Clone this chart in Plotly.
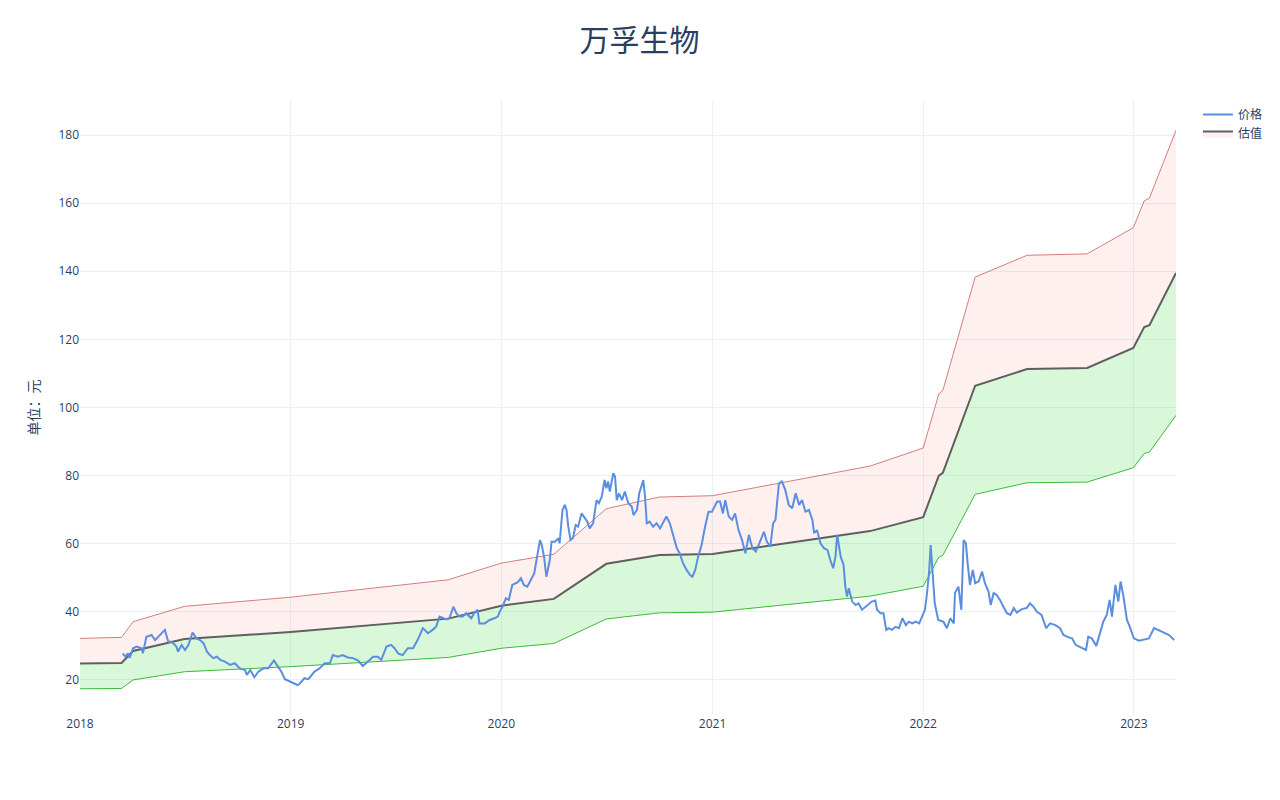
import plotly.graph_objects as go

# ---- valuation band (估值) ----
val_dates = ["2018-01-01", "2018-03-14", "2018-04-03", "2018-07-01", "2019-01-01",
             "2019-10-01", "2020-01-01", "2020-04-01", "2020-07-01", "2020-10-01",
             "2021-01-01", "2021-10-01", "2022-01-01", "2022-01-28", "2022-02-04",
             "2022-04-01", "2022-06-30", "2022-10-12", "2022-12-31", "2023-01-19",
             "2023-01-28", "2023-03-15"]
val_mid = [24.8, 25.0, 28.5, 32.0, 34.1, 38.0, 41.8, 43.8, 54.1, 56.7, 57.0,
           63.7, 67.8, 80.0, 80.8, 106.4, 111.3, 111.6, 117.5, 123.6, 124.2, 139.5]
val_upper = [32.2, 32.5, 37.1, 41.6, 44.3, 49.4, 54.3, 56.9, 70.3, 73.7, 74.1,
             82.8, 88.1, 104.0, 105.0, 138.3, 144.7, 145.1, 152.8, 160.7, 161.5, 181.4]
val_lower = [17.4, 17.5, 20.0, 22.4, 23.9, 26.6, 29.3, 30.7, 37.9, 39.7, 39.9,
             44.6, 47.5, 56.0, 56.6, 74.5, 77.9, 78.1, 82.3, 86.5, 86.9, 97.7]

# ---- price (价格) ----
price_dates = [
    "2018-03-16", "2018-03-21", "2018-03-25", "2018-03-28", "2018-04-03", "2018-04-09",
    "2018-04-18", "2018-04-20", "2018-04-26", "2018-05-05", "2018-05-11", "2018-05-20",
    "2018-05-28", "2018-06-03", "2018-06-09", "2018-06-17", "2018-06-20", "2018-06-26",
    "2018-07-02", "2018-07-08", "2018-07-15", "2018-07-22", "2018-07-28", "2018-08-03",
    "2018-08-09", "2018-08-14", "2018-08-20", "2018-08-26", "2018-09-01", "2018-09-09",
    "2018-09-18", "2018-09-26", "2018-10-05", "2018-10-14", "2018-10-17", "2018-10-23",
    "2018-10-30", "2018-11-06", "2018-11-15", "2018-11-23", "2018-12-03", "2018-12-10",
    "2018-12-16", "2018-12-22", "2018-12-31",
    "2019-01-08", "2019-01-13", "2019-01-16", "2019-01-22", "2019-01-25", "2019-01-31",
    "2019-02-02", "2019-02-11", "2019-02-20", "2019-03-01", "2019-03-10", "2019-03-15",
    "2019-03-24", "2019-04-01", "2019-04-10", "2019-04-19", "2019-04-28", "2019-05-06",
    "2019-05-15", "2019-05-24", "2019-06-01", "2019-06-07", "2019-06-16", "2019-06-24",
    "2019-06-30", "2019-07-06", "2019-07-14", "2019-07-23", "2019-08-01", "2019-08-09",
    "2019-08-18", "2019-08-27", "2019-09-04", "2019-09-10", "2019-09-16", "2019-09-22",
    "2019-09-28", "2019-10-03", "2019-10-10", "2019-10-15", "2019-10-21", "2019-10-26",
    "2019-11-01", "2019-11-10", "2019-11-15", "2019-11-21", "2019-11-24", "2019-12-03",
    "2019-12-12", "2019-12-20", "2019-12-26", "2019-12-29",
    "2020-01-03", "2020-01-09", "2020-01-14", "2020-01-20", "2020-01-29", "2020-02-04",
    "2020-02-09", "2020-02-15", "2020-02-21", "2020-02-27", "2020-03-03", "2020-03-08",
    "2020-03-11", "2020-03-15", "2020-03-19", "2020-03-25", "2020-03-28", "2020-04-03",
    "2020-04-09", "2020-04-11", "2020-04-16", "2020-04-20", "2020-04-23", "2020-04-26",
    "2020-04-30", "2020-05-04", "2020-05-09", "2020-05-13", "2020-05-19", "2020-05-25",
    "2020-05-29", "2020-06-02", "2020-06-08", "2020-06-14", "2020-06-18", "2020-06-23",
    "2020-06-28", "2020-07-01", "2020-07-04", "2020-07-07", "2020-07-13", "2020-07-16",
    "2020-07-19", "2020-07-23", "2020-07-28", "2020-08-02", "2020-08-08", "2020-08-14",
    "2020-08-17", "2020-08-23", "2020-08-27", "2020-09-03", "2020-09-06", "2020-09-09",
    "2020-09-14", "2020-09-20", "2020-09-26", "2020-10-02", "2020-10-08", "2020-10-13",
    "2020-10-19", "2020-10-25", "2020-10-31", "2020-11-05", "2020-11-11", "2020-11-17",
    "2020-11-23", "2020-11-27", "2020-12-02", "2020-12-07", "2020-12-13", "2020-12-19",
    "2020-12-25", "2020-12-31",
    "2021-01-09", "2021-01-14", "2021-01-19", "2021-01-23", "2021-01-29", "2021-02-04",
    "2021-02-09", "2021-02-15", "2021-02-21", "2021-02-27", "2021-03-05", "2021-03-11",
    "2021-03-17", "2021-03-23", "2021-03-31", "2021-04-05", "2021-04-11", "2021-04-16",
    "2021-04-20", "2021-04-26", "2021-05-01", "2021-05-07", "2021-05-13", "2021-05-19",
    "2021-05-25", "2021-05-31", "2021-06-05", "2021-06-11", "2021-06-17", "2021-06-23",
    "2021-06-26", "2021-07-01", "2021-07-07", "2021-07-13", "2021-07-19", "2021-07-24",
    "2021-07-29", "2021-08-02", "2021-08-05", "2021-08-11", "2021-08-16", "2021-08-19",
    "2021-08-22", "2021-08-25", "2021-08-31", "2021-09-06", "2021-09-11", "2021-09-17",
    "2021-09-23", "2021-09-29", "2021-10-04", "2021-10-10", "2021-10-13", "2021-10-19",
    "2021-10-24", "2021-10-29", "2021-11-02", "2021-11-08", "2021-11-14", "2021-11-20",
    "2021-11-26", "2021-12-02", "2021-12-07", "2021-12-13", "2021-12-19", "2021-12-25",
    "2021-12-31",
    "2022-01-04", "2022-01-07", "2022-01-11", "2022-01-14", "2022-01-17", "2022-01-21",
    "2022-01-27", "2022-02-05", "2022-02-11", "2022-02-17", "2022-02-23", "2022-02-25",
    "2022-03-03", "2022-03-08", "2022-03-12", "2022-03-16", "2022-03-19", "2022-03-23",
    "2022-03-28", "2022-04-01", "2022-04-07", "2022-04-13", "2022-04-18", "2022-04-24",
    "2022-04-28", "2022-05-03", "2022-05-08", "2022-05-14", "2022-05-20", "2022-05-26",
    "2022-06-01", "2022-06-07", "2022-06-12", "2022-06-21", "2022-06-29", "2022-07-05",
    "2022-07-11", "2022-07-17", "2022-07-25", "2022-08-02", "2022-08-09", "2022-08-18",
    "2022-08-26", "2022-09-01", "2022-09-10", "2022-09-16", "2022-09-22", "2022-09-28",
    "2022-10-03", "2022-10-10", "2022-10-14", "2022-10-20", "2022-10-28", "2022-11-03",
    "2022-11-09", "2022-11-15", "2022-11-20", "2022-11-24", "2022-11-30", "2022-12-05",
    "2022-12-09", "2022-12-14", "2022-12-20", "2022-12-25",
    "2023-01-01", "2023-01-10", "2023-01-18", "2023-01-27", "2023-02-05", "2023-02-13",
    "2023-02-22", "2023-03-03", "2023-03-12",
]
price_values = [
    27.8, 26.8, 27.8, 26.5, 29.3, 29.8,
    29.3, 27.8, 32.7, 33.2, 31.7, 33.2,
    34.7, 31.2, 31.2, 29.8, 28.3, 30.3,
    28.8, 30.3, 33.9, 32.2, 31.7, 30.8,
    28.3, 27.3, 26.4, 26.8, 25.9, 25.4,
    24.4, 24.9, 23.4, 22.9, 21.5, 22.9,
    20.8, 22.4, 23.4, 23.4, 25.7, 23.9,
    22.4, 20.2, 19.5,
    19.0, 18.5, 18.8, 20.0, 20.5, 20.2,
    20.5, 22.4, 23.4, 24.9, 24.9, 27.3,
    26.8, 27.3, 26.6, 26.4, 25.7, 24.1,
    25.4, 26.8, 26.8, 25.9, 29.8, 30.3,
    29.3, 27.8, 27.3, 29.3, 29.3, 31.7,
    35.2, 33.7, 34.7, 35.6, 38.6, 38.1,
    37.8, 38.1, 41.5, 39.6, 38.6, 38.6,
    39.6, 38.1, 39.6, 40.6, 36.6, 36.6,
    37.6, 38.1, 38.6, 40.0,
    41.5, 44.0, 43.5, 47.9, 48.6, 49.9,
    47.9, 47.4, 49.4, 51.3, 56.2, 61.1,
    59.6, 56.2, 50.3, 55.2, 60.6, 60.6,
    61.6, 60.1, 69.9, 71.4, 69.9, 65.0,
    61.1, 61.6, 65.5, 65.0, 68.9, 67.5,
    66.5, 64.5, 66.0, 72.8, 71.9, 73.8,
    78.7, 76.3, 78.3, 75.3, 80.7, 79.7,
    72.8, 74.8, 72.8, 75.3, 71.9, 70.9,
    68.4, 69.9, 74.8, 78.7, 73.8, 66.0,
    66.5, 65.0, 66.0, 64.5, 66.5, 68.0,
    66.0, 62.1, 58.7, 57.2, 54.2, 52.3,
    50.8, 50.3, 52.3, 56.2, 59.6, 65.0,
    69.4, 69.4,
    72.4, 72.4, 68.9, 72.8, 68.0, 67.0,
    68.9, 64.0, 61.1, 57.2, 62.6, 58.7,
    57.7, 60.1, 63.5, 60.6, 59.1, 66.0,
    67.0, 77.7, 78.3, 75.8, 71.4, 70.4,
    74.8, 71.4, 72.8, 69.4, 69.9, 67.0,
    63.1, 64.0, 60.1, 58.7, 58.2, 55.2,
    52.8, 56.2, 62.6, 56.2, 53.8, 47.4,
    44.5, 46.9, 43.0, 42.0, 42.5, 40.6,
    41.5, 42.5, 43.0, 43.3, 40.6, 39.6,
    39.6, 34.7, 35.2, 34.7, 35.6, 35.2,
    38.1, 36.1, 37.1, 36.6, 37.1, 36.6,
    39.1,
    40.6, 44.5, 51.3, 59.6, 52.3, 42.5,
    37.6, 37.1, 35.2, 38.1, 36.6, 45.5,
    47.4, 40.6, 61.1, 60.1, 54.2, 47.9,
    52.3, 48.4, 48.9, 51.8, 48.4, 46.0,
    42.0, 45.5, 45.0, 43.5, 41.5, 39.6,
    39.1, 41.1, 39.8, 40.8, 41.1, 42.5,
    41.5, 40.0, 39.1, 35.2, 36.6, 36.1,
    35.2, 33.2, 32.5, 32.2, 30.3, 29.8,
    29.3, 28.8, 32.7, 32.2, 30.0, 33.7,
    37.1, 39.1, 43.5, 38.6, 47.9, 43.0,
    48.9, 44.5, 37.6, 35.6,
    32.2, 31.5, 31.9, 32.2, 35.2, 34.7,
    33.9, 33.2, 31.7,
]

title_text = "万孚生物"
y_title = "单位：元"

fig = go.Figure()

# upper bound (thin red line)
fig.add_trace(go.Scatter(
    x=val_dates, y=val_upper, mode="lines",
    line=dict(color="rgba(205,92,92,0.8)", width=1),
    showlegend=False, hoverinfo="skip"))

# valuation line with pink fill to upper
fig.add_trace(go.Scatter(
    x=val_dates, y=val_mid, mode="lines", name="估值",
    line=dict(color="#5f5f5f", width=2),
    fill="tonexty", fillcolor="rgba(255,0,0,0.06)",
    legendrank=2))

# lower bound with green fill to valuation
fig.add_trace(go.Scatter(
    x=val_dates, y=val_lower, mode="lines",
    line=dict(color="rgba(40,180,40,0.9)", width=1),
    fill="tonexty", fillcolor="rgba(0,210,0,0.15)",
    showlegend=False, hoverinfo="skip"))

# price
fig.add_trace(go.Scatter(
    x=price_dates, y=price_values, mode="lines", name="价格",
    line=dict(color="#5b8ee0", width=2),
    legendrank=1))

fig.update_layout(
    template="plotly_white",
    width=1272, height=784,
    margin=dict(l=72, r=97, t=92, b=77),
    title=dict(text=title_text, x=0.4965, xanchor="center", y=0.959, yanchor="middle",
               font=dict(size=30, color="#2a3f5f")),
    font=dict(family="Open Sans, Noto Sans CJK SC, sans-serif", size=12, color="#2a3f5f"),
    legend=dict(font=dict(size=12), traceorder="normal"),
    xaxis=dict(range=["2018-01-01", "2023-03-15"], showgrid=True,
               gridcolor="#ebf0f8", dtick="M12", tickformat="%Y"),
    yaxis=dict(range=[9.7, 190.3], dtick=20, gridcolor="#ebf0f8",
               title=dict(text=y_title, font=dict(size=14))),
)

fig.write_html("out.html")
